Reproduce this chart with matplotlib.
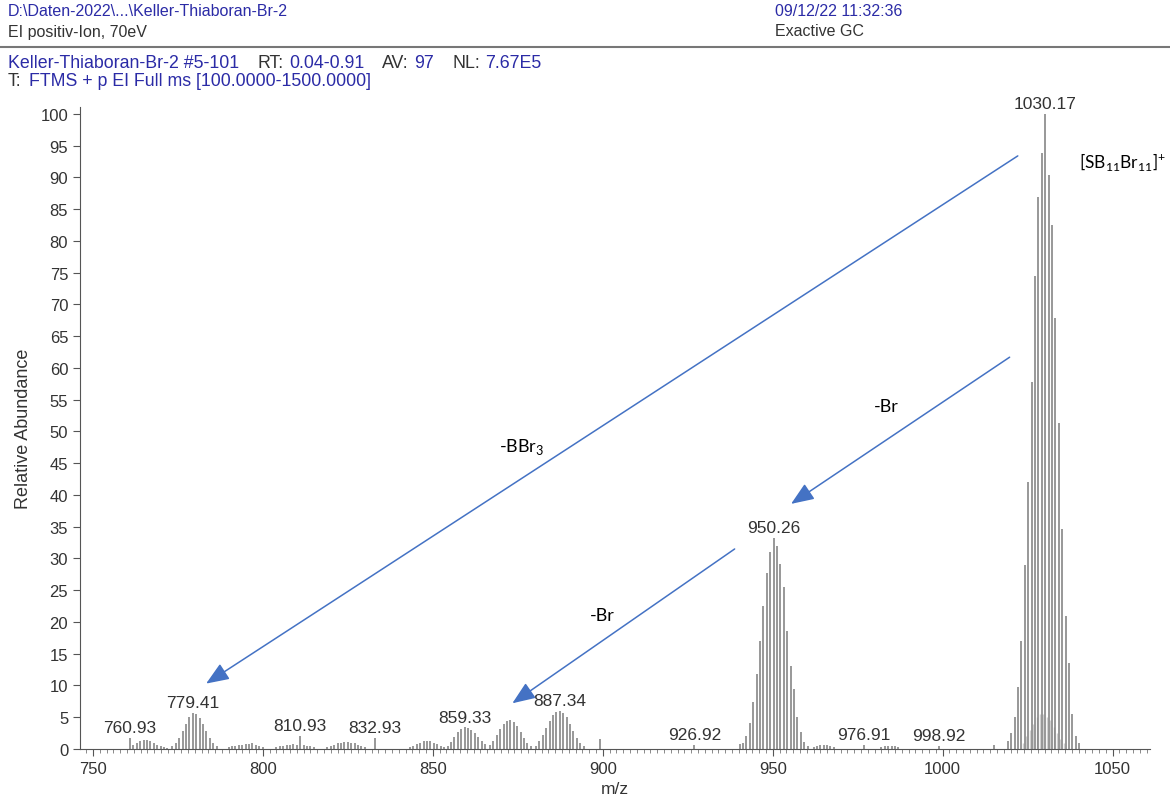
import numpy as np
import matplotlib.pyplot as plt
from matplotlib.ticker import MultipleLocator
from matplotlib.lines import Line2D

plt.rcParams["font.family"] = ["Liberation Sans", "DejaVu Sans"]
plt.rcParams["mathtext.fontset"] = "custom"
plt.rcParams["mathtext.rm"] = "Lato"

# --- spectrum data: m/z and relative abundance (%) ---
# [SB11Br11]+ cluster
main_mz = [1015.20, 1019.17, 1020.17, 1021.17, 1022.17, 1023.17, 1024.17, 1025.17,
           1026.17, 1027.17, 1028.17, 1029.17, 1030.17, 1031.17, 1032.17, 1033.17,
           1034.17, 1035.17, 1036.17, 1037.17, 1038.17, 1039.17, 1040.17]
main_int = [0.6, 1.2, 2.5, 5.0, 9.7, 17.0, 29.0, 42.0,
            57.8, 74.5, 87.0, 93.8, 100.0, 90.4, 82.5, 67.9,
            51.4, 34.7, 21.0, 13.5, 5.5, 2.0, 1.0]

# -Br cluster
br1_mz = [940.26, 941.26, 942.26, 943.26, 944.26, 945.26, 946.26, 947.26, 948.26,
          949.26, 950.26, 951.26, 952.26, 953.26, 954.26, 955.26, 956.26, 957.26,
          958.26, 959.26, 960.26]
br1_int = [0.8, 1.0, 2.0, 4.1, 7.4, 11.8, 17.0, 22.5, 27.7,
           31.0, 33.2, 31.9, 29.1, 25.5, 18.6, 13.1, 9.4, 5.0,
           2.6, 1.1, 0.5]

# low-mass region clusters and single lines
low_mz = [760.93, 761.93, 762.93, 763.93, 764.93, 765.93, 766.93, 767.93, 768.93, 769.93,
          770.93, 771.93,
          773.41, 774.41, 775.41, 776.41, 777.41, 778.41, 779.41, 780.41, 781.41, 782.41,
          783.41, 784.41, 785.41, 786.41,
          789.9, 790.9, 791.9, 792.9, 793.9, 794.9, 795.9, 796.9, 797.9, 798.9, 799.9,
          804.0, 805.0, 806.0, 807.0, 808.0, 809.0, 810.0, 810.93, 812.0, 813.0, 814.0, 815.0,
          819.0, 820.0, 821.0, 822.0, 823.0, 824.0, 825.0, 826.0, 827.0, 828.0, 829.0, 830.0,
          832.93,
          843.3, 844.3, 845.3, 846.3, 847.3, 848.3, 849.3, 850.3, 851.3, 852.3, 853.3,
          854.33, 855.33, 856.33, 857.33, 858.33, 859.33, 860.33, 861.33, 862.33, 863.33,
          864.33, 865.33,
          866.8, 867.8, 868.8, 869.8, 870.8, 871.8, 872.8, 873.8, 874.8, 875.8, 876.8,
          877.8, 878.8,
          880.34, 881.34, 882.34, 883.34, 884.34, 885.34, 886.34, 887.34, 888.34, 889.34,
          890.34, 891.34, 892.34, 893.34, 894.34,
          899.1, 926.92,
          962.0, 963.0, 964.0, 965.0, 966.0, 967.0, 968.0,
          976.91, 982.0, 983.0, 984.0, 985.0, 986.0, 987.0, 998.92]
low_int = [1.8, 0.6, 1.0, 1.2, 1.4, 1.4, 1.3, 1.0, 0.7, 0.4,
           0.3, 0.2,
           0.4, 0.9, 1.8, 2.9, 4.0, 5.0, 5.7, 5.5, 4.9, 3.9,
           2.8, 1.8, 1.0, 0.4,
           0.3, 0.4, 0.5, 0.6, 0.7, 0.8, 0.8, 0.9, 0.7, 0.5, 0.3,
           0.3, 0.4, 0.5, 0.6, 0.7, 0.8, 0.7, 2.1, 0.6, 0.5, 0.4, 0.3,
           0.3, 0.5, 0.7, 0.9, 1.0, 1.1, 1.1, 1.0, 0.9, 0.7, 0.5, 0.3,
           1.8,
           0.3, 0.5, 0.8, 1.0, 1.2, 1.3, 1.2, 1.0, 0.8, 0.5, 0.3,
           0.5, 1.1, 1.9, 2.6, 3.1, 3.4, 3.3, 3.0, 2.5, 1.9,
           1.3, 0.8,
           0.6, 1.3, 2.2, 3.1, 3.9, 4.4, 4.6, 4.3, 3.6, 2.7, 1.8,
           1.0, 0.5,
           0.5, 1.2, 2.2, 3.3, 4.4, 5.3, 5.8, 6.0, 5.7, 5.0,
           4.0, 2.9, 1.8, 1.0, 0.5,
           1.6, 0.6,
           0.3, 0.5, 0.6, 0.7, 0.6, 0.5, 0.3,
           0.7, 0.3, 0.4, 0.4, 0.5, 0.4, 0.3, 0.5]

# faint side lines inside the big cluster
faint_mz = [1023.65, 1024.65, 1025.65, 1026.65, 1027.65, 1028.65, 1029.65, 1030.65,
            1031.65, 1032.65, 1033.65, 1034.65, 1035.65]
faint_int = [1.0, 2.0, 3.0, 4.0, 5.0, 5.5, 5.5, 5.0,
             4.5, 3.5, 2.5, 1.5, 1.0]

peak_labels = [760.93, 779.41, 810.93, 832.93, 859.33, 887.34, 926.92,
               950.26, 976.91, 998.92, 1030.17]

all_mz = np.array(main_mz + br1_mz + low_mz)
all_int = np.array(main_int + br1_int + low_int)

fig = plt.figure(figsize=(11.7, 8.03), dpi=100)
ax = fig.add_axes([80 / 1170, 1 - 750 / 803, 1070 / 1170, 642 / 803])

stick = "#7c7c7c"
ax.vlines(faint_mz, 0, faint_int, color="#d0d0d0", lw=1.0)
ax.vlines(all_mz, 0, all_int, color=stick, lw=1.1)

for m in peak_labels:
    i = np.argmin(np.abs(all_mz - m))
    ax.annotate(f"{m:.2f}", (m, all_int[i]), xytext=(0, 2), textcoords="offset points",
                ha="center", va="bottom", fontsize=12.5, color="#333333")

ax.set_xlim(746.2, 1061)
ax.set_ylim(0, 101.1)
ax.set_xticks([750, 800, 850, 900, 950, 1000, 1050])
ax.xaxis.set_minor_locator(MultipleLocator(2))
ax.set_yticks(np.arange(0, 101, 5))
for s in ["top", "right"]:
    ax.spines[s].set_visible(False)
for s in ["left", "bottom"]:
    ax.spines[s].set_color("#555555")
ax.tick_params(which="major", length=5, color="#555555", labelsize=12, labelcolor="#333333")
ax.tick_params(which="minor", length=3, color="#777777")
ax.tick_params(axis="y", which="minor", left=False)
ax.set_xlabel("m/z", fontsize=12.5, color="#333333", labelpad=4)
ax.set_ylabel("Relative Abundance", fontsize=13, color="#333333", labelpad=6)

# annotation arrows
blue = "#4472C4"
arrow = dict(arrowstyle="-|>,head_length=0.7,head_width=0.28", color=blue, lw=1.1,
             mutation_scale=20, shrinkA=0, shrinkB=0)
ax.annotate("", xy=(783.3, 10.3), xytext=(1022.1, 93.4), arrowprops=arrow)
ax.annotate("", xy=(955.4, 38.6), xytext=(1019.7, 61.7), arrowprops=arrow)
ax.annotate("", xy=(873.4, 7.2), xytext=(938.8, 31.5), arrowprops=arrow)

note_font = ["Lato", "DejaVu Sans"]
ax.text(876.2, 47.7, r"-BBr$_\mathrm{3}$", fontsize=13, ha="center", va="center", family=note_font)
ax.text(983.3, 54.0, "-Br", fontsize=13, ha="center", va="center", family=note_font)
ax.text(900.0, 21.1, "-Br", fontsize=13, ha="center", va="center", family=note_font)
ax.text(1040.0, 92.6, r"[SB$_\mathrm{11}$Br$_\mathrm{11}$]$^\mathrm{+}$", fontsize=12.5,
        ha="left", va="center", family=note_font)

# header block
hblue = "#2b2ba6"
hgray = "#333333"
fig.text(8 / 1170, 1 - 12 / 803, "D:\\Daten-2022\\...\\Keller-Thiaboran-Br-2", color=hblue,
         fontsize=11.5, va="center")
fig.text(8 / 1170, 1 - 32 / 803, "EI positiv-Ion, 70eV", color=hgray, fontsize=11.5, va="center")
fig.text(775 / 1170, 1 - 12 / 803, "09/12/22 11:32:36", color=hblue, fontsize=11.5, va="center")
fig.text(775 / 1170, 1 - 32 / 803, "Exactive GC", color=hgray, fontsize=11.5, va="center")
fig.add_artist(Line2D([0, 1], [1 - 48 / 803, 1 - 48 / 803], color="#777777", lw=1.5))

# run info line, pieces chained one after another (text, colour, gap in points)
line3 = [("Keller-Thiaboran-Br-2 #5-101", hblue, 0), ("RT:", hgray, 13), ("0.04-0.91", hblue, 4),
         ("AV:", hgray, 13), ("97", hblue, 4), ("NL:", hgray, 13), ("7.67E5", hblue, 4)]
prev = fig.text(8 / 1170, 1 - 63 / 803, line3[0][0], color=line3[0][1], fontsize=12.8,
                va="center")
for t, c, gap in line3[1:]:
    prev = ax.annotate(t, xy=(1, 0.5), xycoords=prev, xytext=(gap, 0),
                       textcoords="offset points", color=c, fontsize=12.8,
                       va="center", ha="left", annotation_clip=False)

t_lab = fig.text(8 / 1170, 1 - 82 / 803, "T:", color=hgray, fontsize=12.8, va="center")
ax.annotate("FTMS + p EI Full ms [100.0000-1500.0000]", xy=(1, 0.5), xycoords=t_lab,
            xytext=(5, 0), textcoords="offset points", color=hblue, fontsize=12.8,
            va="center", ha="left", annotation_clip=False)

fig.savefig("out.png", dpi=100)
